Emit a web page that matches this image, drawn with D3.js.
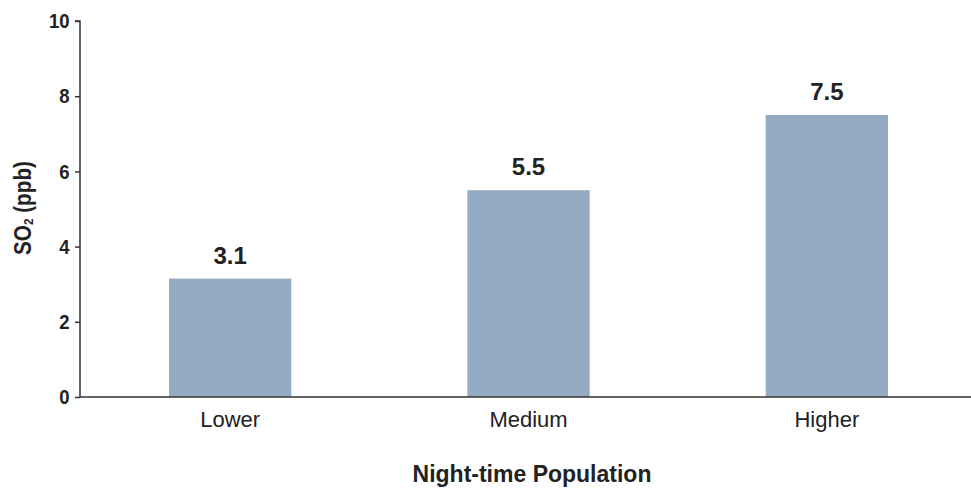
<!DOCTYPE html>
<html>
<head>
<meta charset="utf-8">
<script src="https://cdn.jsdelivr.net/npm/d3@7"></script>
<style>
  html, body { margin: 0; padding: 0; background: #fff; }
  svg { display: block; }
  text { font-family: "Liberation Sans", Arial, sans-serif; }
</style>
</head>
<body>
<svg id="chart" width="971" height="491"></svg>
<script>
const categories = ["Lower", "Medium", "Higher"];
const values = [3.15, 5.5, 7.5];
const valueLabels = ["3.1", "5.5", "7.5"];
const yTicks = [0, 2, 4, 6, 8, 10];
const xTitle = "Night-time Population";

const svg = d3.select("#chart");

const x = d3.scaleBand().domain(categories).range([81, 976]).paddingInner(0.59).paddingOuter(0.295);
const y = d3.scaleLinear().domain([0, 10]).range([397, 21]);

// bars
svg.append("g").selectAll("rect").data(values).join("rect")
  .attr("x", (d, i) => x(categories[i]))
  .attr("y", d => y(d))
  .attr("width", x.bandwidth())
  .attr("height", d => y(0) - y(d))
  .attr("fill", "#95abc3");

// value labels
svg.append("g").selectAll("text").data(values).join("text")
  .attr("x", (d, i) => x(categories[i]) + x.bandwidth() / 2)
  .attr("y", d => y(d) - 15)
  .attr("text-anchor", "middle")
  .attr("font-weight", "bold")
  .attr("font-size", 24)
  .attr("fill", "#222")
  .text((d, i) => valueLabels[i]);

// y axis
const yAxis = d3.axisLeft(y).tickValues(yTicks).tickSize(5).tickPadding(7).tickFormat(d3.format("d"));
const gy = svg.append("g").attr("transform", "translate(80,0)").call(yAxis);
gy.select(".domain").attr("stroke", "#333").attr("stroke-width", 1.5).attr("d", "M-5,21H0V397");
gy.selectAll(".tick line").attr("stroke", "#333").attr("stroke-width", 1.5);
gy.selectAll(".tick text")
  .attr("font-family", "'Liberation Sans', Arial, sans-serif")
  .attr("font-weight", "bold").attr("font-size", 21).attr("fill", "#222")
  .attr("transform", "scale(0.88,1)");

// x axis
const xAxis = d3.axisBottom(x).tickSize(0).tickPadding(14);
const gx = svg.append("g").attr("transform", "translate(0,397)").call(xAxis);
gx.select(".domain").attr("stroke", "#333").attr("stroke-width", 1.5).attr("d", "M80,0H971");
gx.selectAll(".tick text")
  .attr("font-family", "'Liberation Sans', Arial, sans-serif")
  .attr("font-size", 22).attr("fill", "#222");

// x title
svg.append("text")
  .attr("x", 532).attr("y", 482)
  .attr("text-anchor", "middle")
  .attr("font-weight", "bold")
  .attr("font-size", 23)
  .attr("fill", "#222")
  .text(xTitle);

// y title
const yt = svg.append("text")
  .attr("transform", "translate(31,208) rotate(-90) scale(0.9,1)")
  .attr("text-anchor", "middle")
  .attr("font-weight", "bold")
  .attr("font-size", 23)
  .attr("fill", "#222");
yt.append("tspan").text("SO");
yt.append("tspan").attr("font-size", 13).attr("dy", 2).text("2");
yt.append("tspan").attr("dy", -2).text(" (ppb)");
</script>
</body>
</html>
